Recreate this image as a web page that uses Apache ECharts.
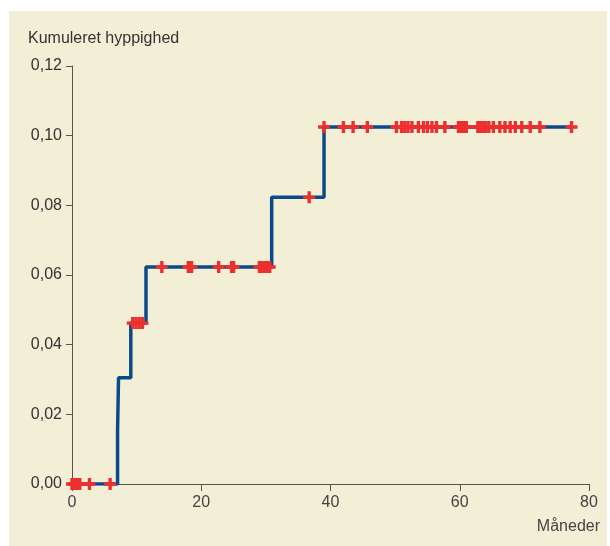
<!DOCTYPE html>
<html>
<head>
<meta charset="utf-8">
<script src="https://cdn.jsdelivr.net/npm/echarts@6/dist/echarts.min.js"></script>
<style>
  html, body { margin: 0; padding: 0; background: #ffffff; }
  #chart { width: 610px; height: 546px; }
</style>
</head>
<body>
<div id="chart"></div>
<script>
// trin-kurve (kumuleret hyppighed)
var stepTimes = [0, 7.05, 7.2, 9.1, 11.45, 30.9, 39.0, 77.3];
var stepValues = [0, 0.0153, 0.0305, 0.0462, 0.0623, 0.0823, 0.1025, 0.1025];

// censurerede observationer pr. niveau
var censLevels = [0, 0.0462, 0.0623, 0.0823, 0.1025];
var censTimes0 = [0, 0.4, 0.8, 1.2, 2.7, 5.9];
var censTimes1 = [9.4, 9.9, 10.4, 10.9];
var censTimes2 = [13.9, 18.0, 18.5, 22.7, 24.7, 25.0, 29.0, 29.4, 29.8, 30.2, 30.6];
var censTimes3 = [36.7];
var censTimes4 = [39.0, 42.0, 43.5, 45.7, 50.2, 51.0, 51.5, 52.0, 52.6, 53.6, 54.4, 55.0,
  55.7, 56.4, 57.7, 59.8, 60.2, 60.6, 61.0, 62.8, 63.2, 63.6, 64.0, 64.5, 65.2, 66.2,
  67.0, 67.8, 68.6, 69.6, 70.9, 72.4, 77.3];

var xTicks = [0, 20, 40, 60, 80];
var yTicks = [0, 0.02, 0.04, 0.06, 0.08, 0.10, 0.12];

var stepData = stepTimes.map(function (t, i) { return [t, stepValues[i]]; });
var censData = [];
[censTimes0, censTimes1, censTimes2, censTimes3, censTimes4].forEach(function (arr, i) {
  arr.forEach(function (t) { censData.push([t, censLevels[i]]); });
});

var fontFam = 'Liberation Sans';
// plus-tegn som fyldt figur
var plus = 'path://M3.6,0H6.4V3.6H10V6.4H6.4V10H3.6V6.4H0V3.6H3.6Z';

var chart = echarts.init(document.getElementById('chart'));
chart.setOption({
  backgroundColor: '#ffffff',
  animation: false,
  graphic: [
    { type: 'rect', z: -10, shape: { x: 9, y: 11, width: 598, height: 535 }, style: { fill: '#f3eed6' } },
    { type: 'text', left: 28, top: 31, style: { text: 'Kumuleret hyppighed', fill: '#333333', font: '16px ' + fontFam } },
    { type: 'text', right: 10, top: 519, style: { text: 'Måneder', fill: '#444444', font: '16px ' + fontFam } }
  ],
  grid: { left: 72, right: 21, top: 66, bottom: 62 },
  xAxis: {
    type: 'value', min: 0, max: 80, interval: 20,
    axisLine: { show: true, lineStyle: { color: '#555555', width: 1 } },
    axisTick: { show: true, length: 7, lineStyle: { color: '#555555' } },
    axisLabel: { color: '#444444', fontSize: 16, fontFamily: fontFam, margin: 11,
      formatter: function (v) { return xTicks.indexOf(v) >= 0 ? String(v) : ''; } },
    splitLine: { show: false }
  },
  yAxis: {
    type: 'value', min: 0, max: 0.12, interval: 0.02,
    axisLine: { show: true, lineStyle: { color: '#555555', width: 1 } },
    axisTick: { show: true, length: 6, lineStyle: { color: '#555555' } },
    axisLabel: { color: '#333333', fontSize: 16, fontFamily: fontFam, margin: 10,
      formatter: function (v) { return v.toFixed(2).replace('.', ','); } },
    splitLine: { show: false }
  },
  series: [
    {
      type: 'line', step: 'end', data: stepData, showSymbol: false, symbol: 'none',
      lineStyle: { color: '#0b4a8a', width: 3.5 }, z: 2
    },
    {
      type: 'scatter', data: censData, symbol: plus, symbolSize: [12, 12],
      itemStyle: { color: '#ec2f2f', opacity: 1 }, z: 3
    }
  ]
});
</script>
</body>
</html>
